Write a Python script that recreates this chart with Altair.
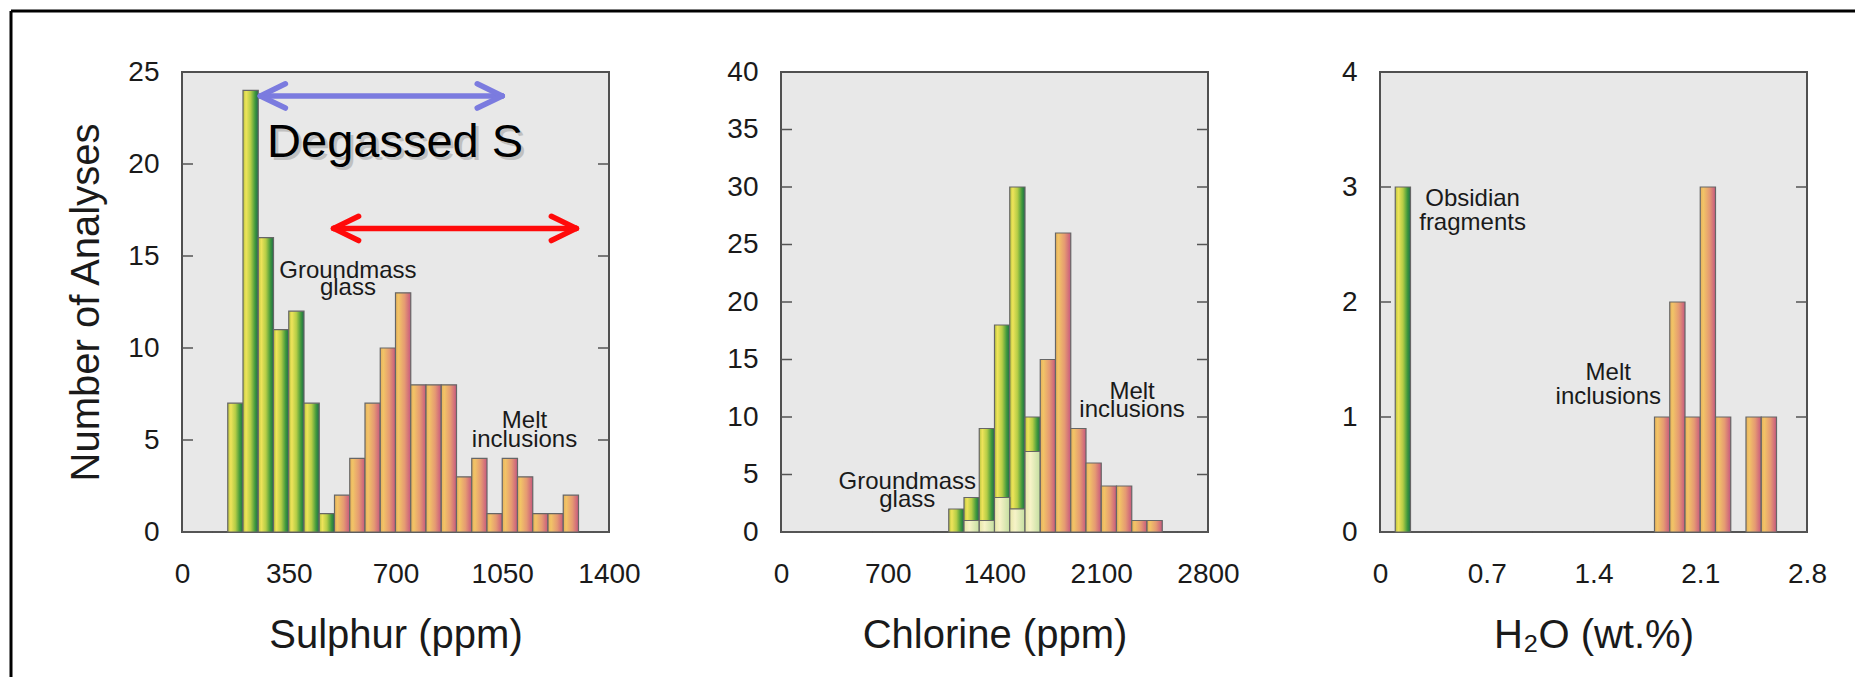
import altair as alt
import pandas as pd

FONT = "Liberation Sans"
W, H = 427, 460

# ---------------- data ----------------
# Sulphur (ppm), bins of 50 ppm
sulphur_bins = [0, 50, 100, 150, 200, 250, 300, 350, 400, 450, 500, 550, 600, 650,
                700, 750, 800, 850, 900, 950, 1000, 1050, 1100, 1150, 1200, 1250, 1300, 1350]
sulphur_glass = [0, 0, 0, 7, 24, 16, 11, 12, 7, 1, 0, 0, 0, 0,
                 0, 0, 0, 0, 0, 0, 0, 0, 0, 0, 0, 0, 0, 0]
sulphur_melt = [0, 0, 0, 0, 0, 0, 0, 0, 0, 0, 2, 4, 7, 10,
                13, 8, 8, 8, 3, 4, 1, 4, 3, 1, 1, 2, 0, 0]

# Chlorine (ppm), bins of 100 ppm
chlorine_bins = [0, 100, 200, 300, 400, 500, 600, 700, 800, 900, 1000, 1100, 1200, 1300,
                 1400, 1500, 1600, 1700, 1800, 1900, 2000, 2100, 2200, 2300, 2400, 2500, 2600, 2700]
chlorine_glass = [0, 0, 0, 0, 0, 0, 0, 0, 0, 0, 0, 2, 3, 9,
                  18, 30, 10, 0, 0, 0, 0, 0, 0, 0, 0, 0, 0, 0]
chlorine_glass_light = [0, 0, 0, 0, 0, 0, 0, 0, 0, 0, 0, 0, 1, 1,
                        3, 2, 7, 0, 0, 0, 0, 0, 0, 0, 0, 0, 0, 0]
chlorine_melt = [0, 0, 0, 0, 0, 0, 0, 0, 0, 0, 0, 0, 0, 0,
                 0, 0, 0, 15, 26, 9, 6, 4, 4, 1, 1, 0, 0, 0]

# H2O (wt.%), bins of 0.1
h2o_bins = [0.0, 0.1, 0.2, 0.3, 0.4, 0.5, 0.6, 0.7, 0.8, 0.9, 1.0, 1.1, 1.2, 1.3,
            1.4, 1.5, 1.6, 1.7, 1.8, 1.9, 2.0, 2.1, 2.2, 2.3, 2.4, 2.5, 2.6, 2.7]
h2o_obsidian = [0, 3, 0, 0, 0, 0, 0, 0, 0, 0, 0, 0, 0, 0,
                0, 0, 0, 0, 0, 0, 0, 0, 0, 0, 0, 0, 0, 0]
h2o_melt = [0, 0, 0, 0, 0, 0, 0, 0, 0, 0, 0, 0, 0, 0,
            0, 0, 0, 0, 1, 2, 1, 3, 1, 0, 1, 1, 0, 0]

# axis ticks
sulphur_xticks = [0, 350, 700, 1050, 1400]
chlorine_xticks = [0, 700, 1400, 2100, 2800]
h2o_xticks = [0, 0.7, 1.4, 2.1, 2.8]
sulphur_yticks = [0, 5, 10, 15, 20, 25]
chlorine_yticks = [0, 5, 10, 15, 20, 25, 30, 35, 40]
h2o_yticks = [0, 1, 2, 3, 4]

# annotations
s_labels = ["Groundmass", "glass", "Melt", "inclusions"]
s_label_x = [544, 544, 1123, 1123]
s_label_y = [13.8, 12.9, 5.63, 4.6]
c_labels = ["Groundmass", "glass", "Melt", "inclusions"]
c_label_x = [828, 828, 2302, 2302]
c_label_y = [3.73, 2.2, 11.54, 10.0]
h_labels = ["Obsidian", "fragments", "Melt", "inclusions"]
h_label_x = [0.607, 0.607, 1.497, 1.497]
h_label_y = [2.835, 2.63, 1.319, 1.115]

big_label = ["Degassed S"]
big_label_x = [279]
big_label_y = [20.4]

arrow_left = [257, 497]
arrow_right = [1050, 1293]
arrow_y = [23.7, 16.5]
arrow_color = ["#7b7bdf", "#ff0a0a"]
arrow_arm_dx = 82
arrow_arm_dy = 0.66

# ---------------- styles ----------------
GREEN = alt.Gradient(gradient="linear", x1=0, x2=1, y1=0, y2=0, stops=[
    alt.GradientStop(offset=0, color="#b8c43e"),
    alt.GradientStop(offset=0.2, color="#efe45a"),
    alt.GradientStop(offset=0.5, color="#b6cd46"),
    alt.GradientStop(offset=0.8, color="#3e983c"),
    alt.GradientStop(offset=1, color="#1f6a4b")])
ORANGE = alt.Gradient(gradient="linear", x1=0, x2=1, y1=0, y2=0, stops=[
    alt.GradientStop(offset=0, color="#e6b05c"),
    alt.GradientStop(offset=0.2, color="#f2c467"),
    alt.GradientStop(offset=0.6, color="#e59a72"),
    alt.GradientStop(offset=1, color="#c8587e")])
LIGHT = alt.Gradient(gradient="linear", x1=0, x2=1, y1=0, y2=0, stops=[
    alt.GradientStop(offset=0, color="#e6e6a6"),
    alt.GradientStop(offset=0.35, color="#f7f3c8"),
    alt.GradientStop(offset=1, color="#c4dea0")])
BAR_STROKE = "#666666"
TEXT_COLOR = "#1a1a1a"


def bars_df(bins, width, top, base=None):
    base = base if base is not None else [0] * len(bins)
    df = pd.DataFrame({"start": bins, "end": [b + width for b in bins],
                       "count": top, "base": base})
    return df[df["count"] > df["base"]]


def panel(bins, width, series, xdom, xticks, ydom, yticks, xtitle, labels, ytitle="",
          extra=None):
    xs = alt.Scale(domain=xdom, nice=False, zero=False)
    ys = alt.Scale(domain=ydom, nice=False)
    x_axis = alt.Axis(values=xticks, labelExpr="format(datum.value, '~r')", title=xtitle,
                      grid=False, domain=False, ticks=False, labelFlush=False,
                      labelOverlap=False, labelFontSize=28, labelPadding=28,
                      labelColor=TEXT_COLOR, titleFontSize=40, titleFontWeight="normal",
                      titlePadding=27, titleColor=TEXT_COLOR)
    y_axis = alt.Axis(values=yticks, format="d", title=ytitle, grid=False, domain=False,
                      ticks=False, labelFlush=False, labelOverlap=False,
                      labelFontSize=28, labelPadding=23, labelColor=TEXT_COLOR,
                      titleFontSize=40, titleFontWeight="normal", titlePadding=21,
                      titleColor=TEXT_COLOR)

    def X(f):
        return alt.X(f, scale=xs, axis=x_axis)

    def Y(f):
        return alt.Y(f, scale=ys, axis=y_axis)

    # empty-bin outlines along the baseline
    base_df = pd.DataFrame({"start": bins, "end": [b + width for b in bins],
                            "count": [0] * len(bins), "base": [0] * len(bins)})
    layers = [alt.Chart(base_df).mark_bar(fillOpacity=0, stroke="#5a5a5a", strokeWidth=1.2).encode(
        x=X("start:Q"), x2="end:Q", y=Y("count:Q"), y2="base:Q")]

    for df, fill in series:
        layers.append(alt.Chart(df).mark_bar(fill=fill, stroke=BAR_STROKE, strokeWidth=1.2).encode(
            x=X("start:Q"), x2="end:Q", y=Y("count:Q"), y2="base:Q"))

    # inward tick marks on left and right frame
    tdf = pd.DataFrame({"count": yticks[1:-1]})
    layers.append(alt.Chart(tdf).mark_rule(color="#555555", strokeWidth=1.5).encode(
        y=Y("count:Q"), x=alt.value(0), x2=alt.value(11)))
    layers.append(alt.Chart(tdf).mark_rule(color="#555555", strokeWidth=1.5).encode(
        y=Y("count:Q"), x=alt.value(W), x2=alt.value(W - 11)))

    ldf = pd.DataFrame({"t": labels[0], "start": labels[1], "count": labels[2]})
    layers.append(alt.Chart(ldf).mark_text(font=FONT, fontSize=24, color=TEXT_COLOR,
                                           align="center", baseline="alphabetic").encode(
        x=X("start:Q"), y=Y("count:Q"), text="t:N"))

    if extra:
        layers.extend(extra(X, Y))
    return alt.layer(*layers).properties(width=W, height=H)


def sulphur_extra(X, Y):
    segs = []
    for xl, xr, y, c in zip(arrow_left, arrow_right, arrow_y, arrow_color):
        segs.append(dict(start=xl, end=xr, count=y, top=y, c=c))
        for s in (1, -1):
            segs.append(dict(start=xl, end=xl + arrow_arm_dx, count=y, top=y + s * arrow_arm_dy, c=c))
            segs.append(dict(start=xr, end=xr - arrow_arm_dx, count=y, top=y + s * arrow_arm_dy, c=c))
    adf = pd.DataFrame(segs)
    arrows = alt.Chart(adf).mark_rule(strokeWidth=5.5, strokeCap="round").encode(
        x=X("start:Q"), x2="end:Q", y=Y("count:Q"), y2="top:Q",
        color=alt.Color("c:N", scale=None))
    bdf = pd.DataFrame({"t": big_label, "start": big_label_x, "count": big_label_y})
    shadow = alt.Chart(bdf).mark_text(font=FONT, fontSize=47, color="#909090", opacity=0.45,
                                      align="left", baseline="alphabetic", dx=3, dy=3).encode(
        x=X("start:Q"), y=Y("count:Q"), text="t:N")
    big = alt.Chart(bdf).mark_text(font=FONT, fontSize=47, color="#000000",
                                   align="left", baseline="alphabetic").encode(
        x=X("start:Q"), y=Y("count:Q"), text="t:N")
    one = pd.DataFrame({"k": [0]})
    frame_left = alt.Chart(one).mark_rule(color="#000000", strokeWidth=3).encode(
        x=alt.value(-171), y=alt.value(-61), y2=alt.value(605))
    frame_top = alt.Chart(one).mark_rule(color="#000000", strokeWidth=3).encode(
        x=alt.value(-171), x2=alt.value(1673), y=alt.value(-61))
    return [arrows, shadow, big, frame_left, frame_top]


p1 = panel(sulphur_bins, 50,
           [(bars_df(sulphur_bins, 50, sulphur_glass), GREEN),
            (bars_df(sulphur_bins, 50, sulphur_melt), ORANGE)],
           [0, 1400], sulphur_xticks, [0, 25], sulphur_yticks, "Sulphur (ppm)",
           (s_labels, s_label_x, s_label_y), ytitle="Number of Analyses", extra=sulphur_extra)

p2 = panel(chlorine_bins, 100,
           [(bars_df(chlorine_bins, 100, chlorine_glass, chlorine_glass_light), GREEN),
            (bars_df(chlorine_bins, 100, chlorine_glass_light), LIGHT),
            (bars_df(chlorine_bins, 100, chlorine_melt), ORANGE)],
           [0, 2800], chlorine_xticks, [0, 40], chlorine_yticks, "Chlorine (ppm)",
           (c_labels, c_label_x, c_label_y))

p3 = panel(h2o_bins, 0.1,
           [(bars_df(h2o_bins, 0.1, h2o_obsidian), GREEN),
            (bars_df(h2o_bins, 0.1, h2o_melt), ORANGE)],
           [0, 2.8], h2o_xticks, [0, 4], h2o_yticks, "H₂O (wt.%)",
           (h_labels, h_label_x, h_label_y))

chart = alt.HConcatChart(hconcat=[p1, p2, p3], spacing=172, bounds="flush").properties(
    padding={"left": 0, "top": 0, "right": 0, "bottom": 0},
    background="#ffffff"
).configure_view(
    fill="#e8e8e8", stroke="#505050", strokeWidth=2
).configure_axis(labelFont=FONT, titleFont=FONT).configure_text(font=FONT)

chart.save("out.html", embed_options={"renderer": "svg", "actions": False})
